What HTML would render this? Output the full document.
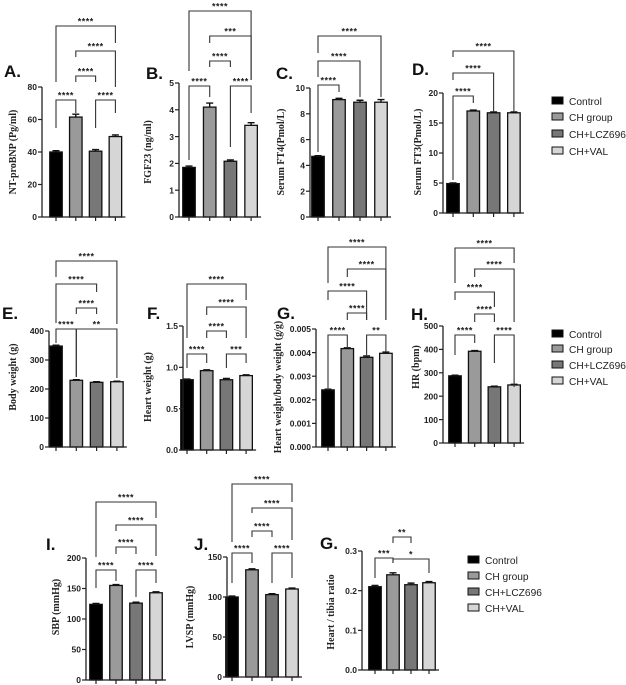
<!DOCTYPE html>
<html><head><meta charset="utf-8">
<style>
html,body{margin:0;padding:0;background:#fff;}
svg{display:block;}
text{font-family:"Liberation Sans",Arial,sans-serif;}
.tick{font-size:8.5px;font-weight:bold;fill:#222;}
.ylab{font-family:"Liberation Serif",serif;font-size:10px;font-weight:bold;fill:#222;}
.letter{font-size:17px;font-weight:bold;fill:#111;}
.star{font-size:9px;font-weight:bold;fill:#222;letter-spacing:0.5px;}
.leg{font-size:10.2px;fill:#222;}
</style></head>
<body>
<svg id="fig" width="626" height="685" viewBox="0 0 626 685" xmlns="http://www.w3.org/2000/svg"></svg>
<script>
const groups=["Control","CH group","CH+LCZ696","CH+VAL"];
const valsA=[40,61.5,40.5,49.5], errA=[0.8,1.8,1.0,1.0], ticksA=[0,20,40,60,80];
const valsB=[1.85,4.1,2.08,3.42], errB=[0.05,0.15,0.05,0.1], ticksB=[0,1,2,3,4,5];
const valsC=[4.7,9.1,8.9,8.9], errC=[0.05,0.1,0.15,0.2], ticksC=[0,2,4,6,8,10];
const valsD=[4.9,17.0,16.7,16.7], errD=[0.1,0.15,0.15,0.15], ticksD=[0,5,10,15,20];
const valsE=[348,230,223,225], errE=[3,2,2,2], ticksE=[0,100,200,300,400];
const valsF=[0.85,0.96,0.85,0.9], errF=[0.008,0.01,0.015,0.01], ticksF=[0,0.5,1.0,1.5];
const valsG=[0.00242,0.00417,0.0038,0.00397], errG=[0.00003,0.00003,0.00006,0.00005], ticksG=[0,0.001,0.002,0.003,0.004,0.005];
const valsH=[287,392,240,248], errH=[3,3,3,3], ticksH=[0,100,200,300,400,500];
const valsI=[124,155,126,143], errI=[1.5,1.5,1.5,1.5], ticksI=[0,50,100,150,200];
const valsJ=[100,134,103,110], errJ=[1.2,1.2,1.2,1.2], ticksJ=[0,50,100,150];
const valsK=[0.21,0.24,0.215,0.22], errK=[0.003,0.005,0.004,0.003], ticksK=[0,0.1,0.2,0.3];

const fills=["#000000","#9a9a9a","#777777","#d6d6d6"];
const NS="http://www.w3.org/2000/svg";
const svg=document.getElementById("fig");
function mk(tag,attrs,parent,txt){const e=document.createElementNS(NS,tag);for(const k in attrs)e.setAttribute(k,attrs[k]);if(txt!==undefined)e.textContent=txt;(parent||svg).appendChild(e);return e;}

const panels=[
 {id:"a",letter:"A.",lx:4,ly:77,ax:42,y0:217,yTop:87,max:80,ticks:ticksA,dec:0,vals:valsA,errs:errA,c0:56,step:19.8,ylab:"NT-proBNP (Pg/ml)",ylx:16,yly:152,
  br:[[0,1,100,128,113,"****"],[2,3,100,128,113,"****"],[1,2,76,82,82,"****"],[1,3,51,57,87,"****"],[0,3,26,82,43,"****"]]},
 {id:"b",letter:"B.",lx:146,ly:79,ax:179,y0:217,yTop:83,max:5,ticks:ticksB,dec:0,vals:valsB,errs:errB,c0:189,step:20.7,ylab:"FGF23 (ng/ml)",ylx:151,yly:152,
  br:[[0,1,86,160,97,"****"],[2,3,86,147,113,"****"],[1,2,61,67,67,"****"],[1,3,36,43,80,"***"],[0,3,11,71,80,"****"]]},
 {id:"c",letter:"C.",lx:276,ly:79,ax:310,y0:217,yTop:88,max:10,ticks:ticksC,dec:0,vals:valsC,errs:errC,c0:318,step:21,ylab:"Serum FT4(Pmol/L)",ylx:284,yly:152,
  br:[[0,1,85,152,92,"****"],[0,2,61,77,97,"****"],[0,3,36,53,97,"****"]]},
 {id:"d",letter:"D.",lx:412,ly:75,ax:443,y0:213,yTop:93,max:20,ticks:ticksD,dec:0,vals:valsD,errs:errD,c0:453,step:20.3,ylab:"Serum FT3(Pmol/L)",ylx:421,yly:152,
  br:[[0,1,96,180,103,"****"],[0,2,73,80,112,"****"],[0,3,51,57,112,"****"]]},
 {id:"e",letter:"E.",lx:2,ly:319,ax:49,y0:447,yTop:331,max:400,ticks:ticksE,dec:0,vals:valsE,errs:errE,c0:56,step:20.3,ylab:"Body weight (g)",ylx:16,yly:377,
  br:[[0,1,329,343,377,"****"],[1,3,329,377,378,"**"],[1,2,308,314,314,"****"],[0,2,284,323,292,"****"],[0,3,261,277,324,"****"]]},
 {id:"f",letter:"F.",lx:147,ly:319,ax:183,y0:450,yTop:326,max:1.5,ticks:ticksF,dec:1,vals:valsF,errs:errF,c0:187,step:19.7,ylab:"Heart weight (g)",ylx:151,yly:387,
  br:[[0,1,354,368,363,"****"],[2,3,354,368,363,"***"],[1,2,331,338,338,"****"],[1,3,307,315,338,"****"],[0,3,284,338,300,"****"]]},
 {id:"g",letter:"G.",lx:277,ly:319,ax:316,y0:447,yTop:329,max:0.005,ticks:ticksG,dec:3,vals:valsG,errs:errG,c0:328,step:19.3,ylab:"Heart weight/body weight (g/g)",ylx:281,yly:387,
  br:[[0,1,335,390,347,"****"],[2,3,335,355,352,"**"],[1,2,313,320,320,"****"],[0,2,291,300,320,"****"],[1,3,269,277,320,"****"],[0,3,247,283,320,"****"]]},
 {id:"h",letter:"H.",lx:411,ly:320,ax:443,y0:443,yTop:326,max:500,ticks:ticksH,dec:0,vals:valsH,errs:errH,c0:455,step:19.7,ylab:"HR (bpm)",ylx:419,yly:367,
  br:[[0,1,335,355,343,"****"],[2,3,335,363,387,"****"],[1,2,314,322,322,"****"],[0,2,292,300,307,"****"],[1,3,269,277,322,"****"],[0,3,248,283,263,"****"]]},
 {id:"i",letter:"I.",lx:46,ly:550,ax:86,y0:680,yTop:558,max:200,ticks:ticksI,dec:0,vals:valsI,errs:errI,c0:96,step:20,ylab:"SBP (mmHg)",ylx:59,yly:607,
  br:[[0,1,570,588,581,"****"],[2,3,570,597,583,"****"],[1,2,547,554,554,"****"],[1,3,525,531,556,"****"],[0,3,502,557,518,"****"]]},
 {id:"j",letter:"J.",lx:194,ly:550,ax:227,y0:677,yTop:557,max:150,ticks:ticksJ,dec:0,vals:valsJ,errs:errJ,c0:232,step:20,ylab:"LVSP (mmHg)",ylx:193,yly:617,
  br:[[0,1,553,583,563,"****"],[2,3,553,583,578,"****"],[1,2,531,537,537,"****"],[1,3,508,513,540,"****"],[0,3,484,542,502,"****"]]},
 {id:"k",letter:"G.",lx:320,ly:549,ax:362,y0:670,yTop:551,max:0.3,ticks:ticksK,dec:1,vals:valsK,errs:errK,c0:375,step:18,ylab:"Heart / tibia ratio",ylx:334,yly:612,
  br:[[0,1,558,578,563,"***"],[1,3,559,563,573,"*"],[1,2,537,543,543,"**"]]}
];

panels.forEach(p=>{
  const g=mk("g",{});
  
  
  const Y=v=>p.y0-(v/p.max)*(p.y0-p.yTop);
  const X=i=>p.c0+i*p.step;
  const bw=12.5;
  const lt=mk("text",{x:p.lx,y:p.ly,class:"letter"},g,p.letter);
  
  
  const yl=mk("text",{x:0,y:0,class:"ylab","text-anchor":"middle",transform:`translate(${p.ylx},${p.yly}) rotate(-90)`},g,p.ylab);
  
  
  p.vals.forEach((v,i)=>{
    const b=mk("rect",{x:X(i)-bw/2,y:Y(v),width:bw,height:p.y0-Y(v),fill:fills[i],stroke:"#111","stroke-width":1.3},g);
    
    
    const e=p.errs[i];
    const eb=mk("path",{d:`M${X(i)},${Y(v)} V${Y(v+e)} M${X(i)-3.5},${Y(v+e)} H${X(i)+3.5}`,stroke:"#111","stroke-width":1.4,fill:"none"},g);
    
    
    mk("line",{x1:X(i),x2:X(i),y1:p.y0,y2:p.y0+4,stroke:"#222","stroke-width":1.2},g);
  });
  const ya=mk("line",{x1:p.ax,x2:p.ax,y1:p.yTop,y2:p.y0,stroke:"#222","stroke-width":1.3},g);
  
  
  const xa=mk("line",{x1:p.ax,x2:X(3)+10,y1:p.y0,y2:p.y0,stroke:"#222","stroke-width":1.3},g);
  
  
  p.ticks.forEach(t=>{
    mk("line",{x1:p.ax-4,x2:p.ax,y1:Y(t),y2:Y(t),stroke:"#222","stroke-width":1.2},g);
    const tl=mk("text",{x:p.ax-5,y:Y(t)+3.2,class:"tick","text-anchor":"end"},g,t.toFixed(p.dec));
    
    
  });
  p.br.forEach(b=>{
    const [i,j,ly,lb,rb,lab]=b;
    const x1=X(i),x2=X(j);
    const bp=mk("path",{d:`M${x1},${lb} V${ly} H${x2} V${rb}`,stroke:"#333","stroke-width":1.1,fill:"none"},g);
    
    
    const st=mk("text",{x:(x1+x2)/2,y:ly-1.5,class:"star","text-anchor":"middle"},g,lab);
    
    
  });
});

const legends=[{x:552,ys:[101,117,134,151]},{x:552,ys:[334,349,365,381]},{x:468,ys:[560,576,592,608]}];
legends.forEach((L,li)=>{
  const g=mk("g",{});
  
  
  groups.forEach((name,i)=>{
    const sw=mk("rect",{x:L.x,y:L.ys[i]-4,width:11,height:7,fill:fills[i],stroke:"#111","stroke-width":1},g);
    
    
    const t=mk("text",{x:L.x+17,y:L.ys[i]+4,class:"leg"},g,name);
    
    
  });
});
</script>
</body></html>
